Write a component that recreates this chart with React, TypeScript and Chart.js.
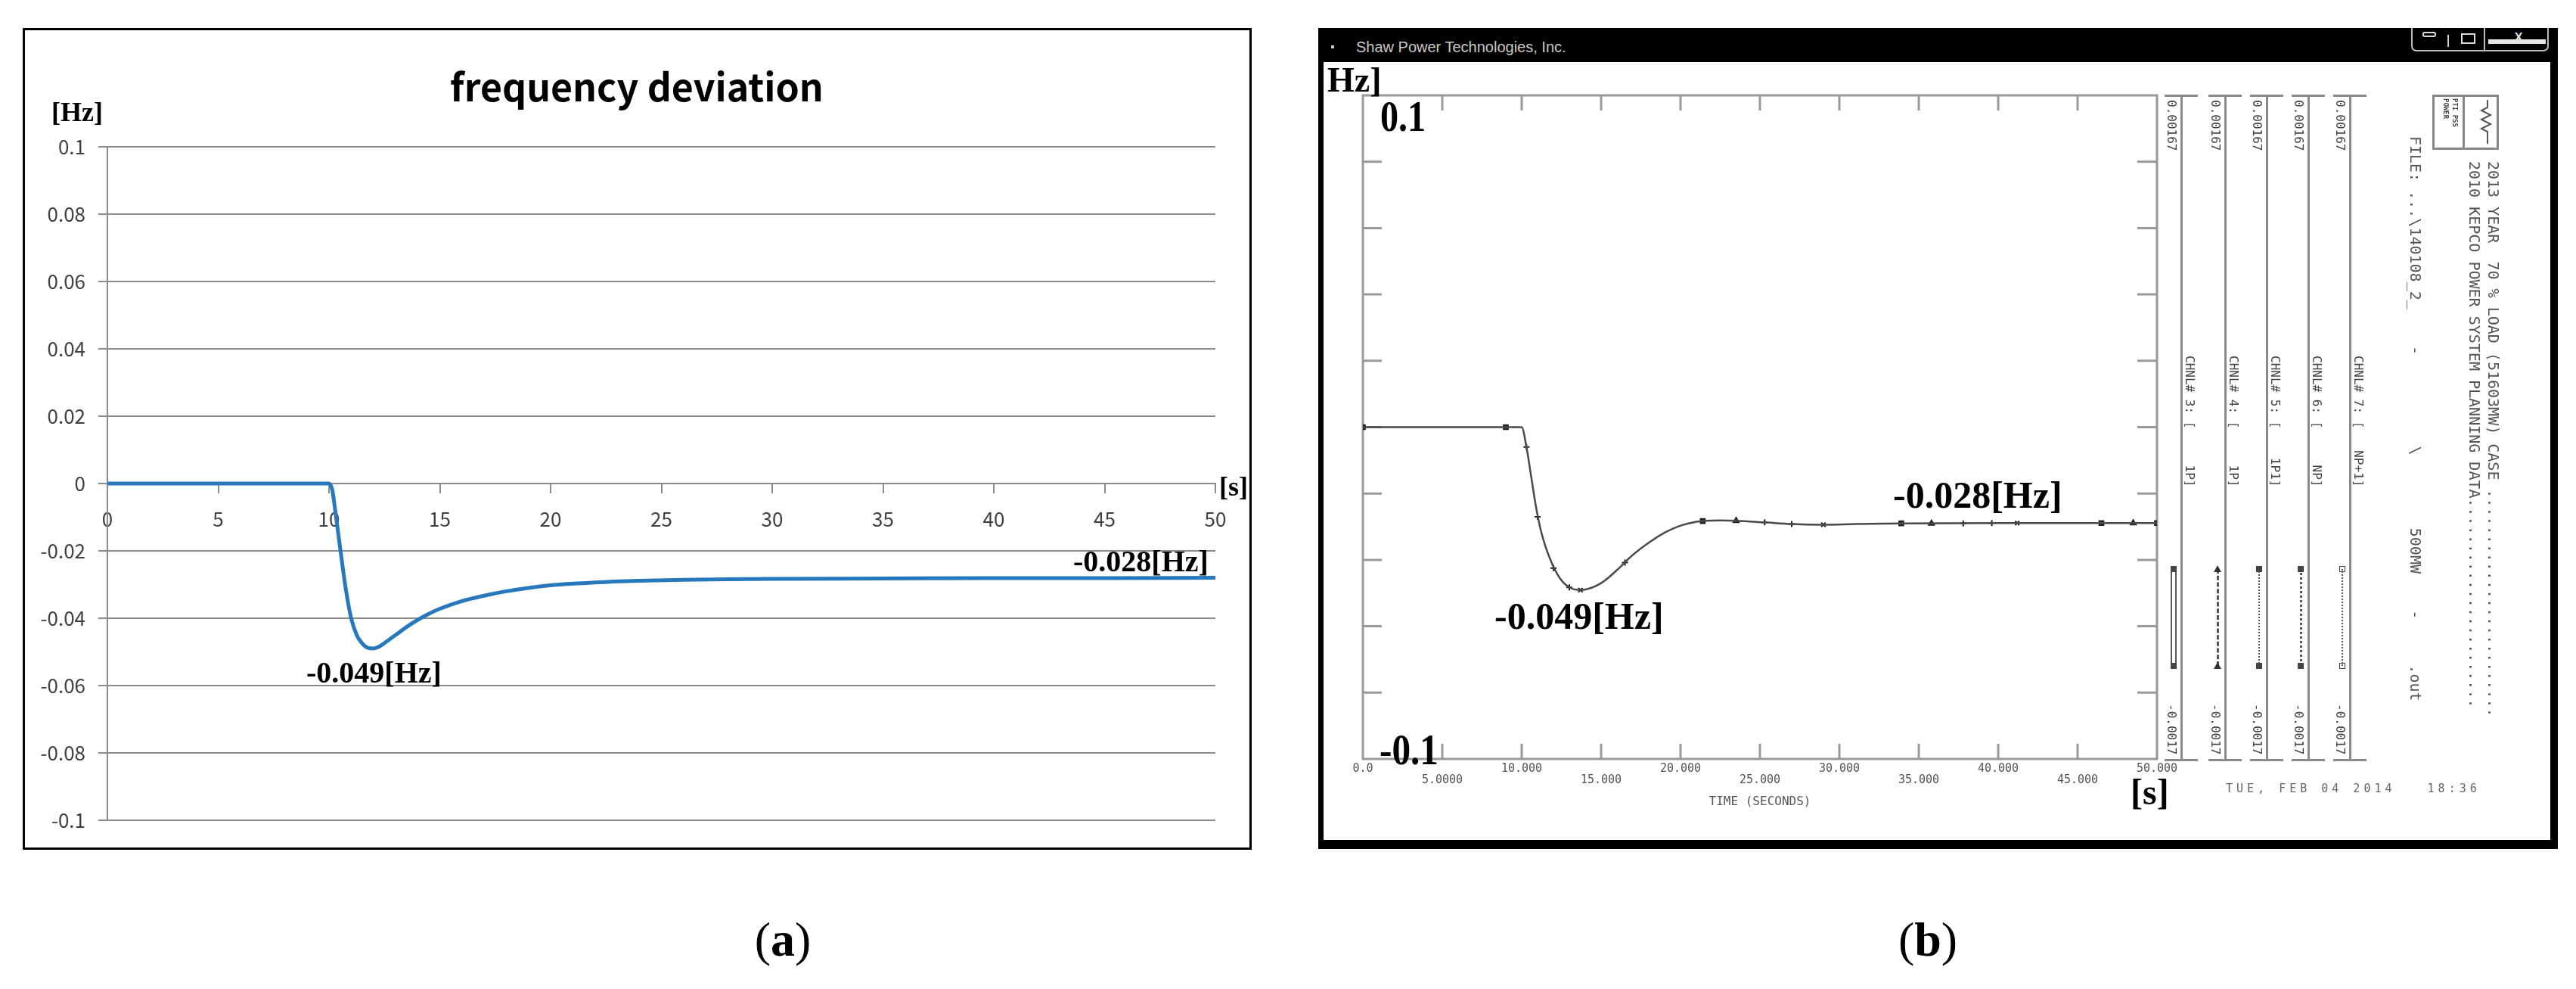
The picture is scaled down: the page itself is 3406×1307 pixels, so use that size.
import React, { useEffect, useRef } from "react";
import { Chart, registerables } from "chart.js";

Chart.register(...registerables);

// ---------------- Panel (a): Excel-style chart ----------------
const timeA = [0, 5, 10, 10.15, 10.3, 10.5, 10.75, 11, 11.25, 11.5, 11.75, 12, 12.25, 12.5, 13, 13.5, 14, 14.5, 15, 16, 17, 18, 19, 20, 22, 24, 26, 28, 30, 35, 40, 45, 50];
const freqA = [0, 0, 0, -0.002, -0.009, -0.019, -0.031, -0.04, -0.045, -0.0475, -0.0488, -0.049, -0.0485, -0.0474, -0.045, -0.0426, -0.0405, -0.0387, -0.0372, -0.0349, -0.0333, -0.032, -0.031, -0.0302, -0.0294, -0.0289, -0.0286, -0.0284, -0.0283, -0.0282, -0.0281, -0.0281, -0.028];
const xTickValsA = [0, 5, 10, 15, 20, 25, 30, 35, 40, 45, 50];
const xTickLabelsA = ["0", "5", "10", "15", "20", "25", "30", "35", "40", "45", "50"];
const yTickValsA = [-0.1, -0.08, -0.06, -0.04, -0.02, 0, 0.02, 0.04, 0.06, 0.08, 0.1];
const yTickLabelsA = ["-0.1", "-0.08", "-0.06", "-0.04", "-0.02", "0", "0.02", "0.04", "0.06", "0.08", "0.1"];

// ---------------- Panel (b): PSS/E plot window ----------------
const timeB = [0, 9, 10, 10.3, 10.6, 10.9, 11.2, 11.5, 11.9, 12.4, 13, 13.7, 14.4, 15, 15.5, 16.1, 17, 18.1, 19, 19.8, 20.6, 21.4, 22.5, 23.5, 25.3, 27, 29, 31, 33.9, 40, 50];
const freqB = [0, 0, 0, -0.006, -0.015, -0.024, -0.031, -0.036, -0.041, -0.0455, -0.0483, -0.0491, -0.0484, -0.047, -0.0452, -0.0426, -0.0385, -0.0345, -0.0318, -0.03, -0.0289, -0.0283, -0.0281, -0.0282, -0.0287, -0.0292, -0.0294, -0.0292, -0.029, -0.0289, -0.0289];
const squareT = [0, 9, 21.4, 33.9, 46.5, 50];
const squareV = [0, 0, -0.0283, -0.029, -0.0289, -0.0289];
const triangleT = [23.5, 35.8, 48.5];
const triangleV = [-0.0282, -0.029, -0.0289];
const plusT = [10.3, 11.0, 12.0, 13.0, 16.5, 25.3, 27.0, 37.8, 39.6];
const plusV = [-0.006, -0.027, -0.0425, -0.0483, -0.0408, -0.0287, -0.0292, -0.029, -0.0289];
const crossT = [13.7, 29.0, 41.2];
const crossV = [-0.0491, -0.0294, -0.0289];
const xTickValsB = [0, 5, 10, 15, 20, 25, 30, 35, 40, 45, 50];
const xTickLabelsB = ["0.0", "5.0000", "10.000", "15.000", "20.000", "25.000", "30.000", "35.000", "40.000", "45.000", "50.000"];
const yTickValsB = [-0.1, -0.08, -0.06, -0.04, -0.02, 0, 0.02, 0.04, 0.06, 0.08, 0.1];
const channelNums = [3, 4, 5, 6, 7];
const channelNames = ["1P", "1P", "1P1", "NP", "NP+1"];
const channelMax = "0.00167";
const channelMin = "-0.0017";

const SERIF = '"Liberation Serif", "Times New Roman", serif';
const MONO = '"DejaVu Sans Mono", "Liberation Mono", monospace';
const KR = '"Noto Sans CJK KR", "Noto Sans", sans-serif';
const GRID = "#8c8c8c";

function pts(t: number[], v: number[]) {
  return t.map((x, i) => ({ x, y: v[i] }));
}

function configA(): any {
  return {
    type: "line",
    data: {
      datasets: [
        {
          data: pts(timeA, freqA),
          borderColor: "#2878bd",
          borderWidth: 5,
          pointRadius: 0,
          cubicInterpolationMode: "monotone",
          fill: false,
        },
      ],
    },
    options: {
      animation: false,
      responsive: false,
      layout: { padding: { left: 0, right: 45, top: 154, bottom: 36 } },
      plugins: { legend: { display: false }, tooltip: { enabled: false }, title: { display: false } },
      scales: {
        x: {
          type: "linear",
          min: 0,
          max: 50,
          position: { y: 0 },
          afterBuildTicks: (s: any) => {
            s.ticks = xTickValsA.map((value) => ({ value }));
          },
          ticks: {
            autoSkip: false,
            maxRotation: 0,
            padding: 20,
            color: "#404040",
            font: { family: KR, size: 26 },
            callback: (_v: any, i: number) => xTickLabelsA[i],
          },
          grid: { drawOnChartArea: false, drawTicks: true, tickLength: 12, color: GRID, lineWidth: 2 },
          border: { display: true, color: GRID, width: 2 },
        },
        y: {
          type: "linear",
          min: -0.1,
          max: 0.1,
          afterFit: (s: any) => {
            s.width = 109;
          },
          afterBuildTicks: (s: any) => {
            s.ticks = yTickValsA.map((value) => ({ value }));
          },
          ticks: {
            autoSkip: false,
            padding: 17,
            color: "#404040",
            font: { family: KR, size: 26 },
            callback: (_v: any, i: number) => yTickLabelsA[i],
          },
          grid: { color: GRID, lineWidth: 2, tickLength: 12 },
          border: { display: true, color: GRID, width: 2 },
        },
      },
    },
  };
}

const frameB = {
  id: "frameB",
  beforeDatasetsDraw(chart: any) {
    const { ctx, chartArea, scales } = chart;
    const { left, right, top, bottom } = chartArea;
    const x = scales.x;
    const y = scales.y;
    ctx.save();
    ctx.strokeStyle = "#9a9a9a";
    ctx.lineWidth = 3;
    ctx.strokeRect(left, top, right - left, bottom - top);
    ctx.beginPath();
    xTickValsB.forEach((t) => {
      if (t <= 0 || t >= 50) return;
      const px = x.getPixelForValue(t);
      ctx.moveTo(px, top);
      ctx.lineTo(px, top + 20);
      ctx.moveTo(px, bottom);
      ctx.lineTo(px, bottom - 20);
    });
    yTickValsB.forEach((v) => {
      if (v <= -0.1 || v >= 0.1) return;
      const py = y.getPixelForValue(v);
      ctx.moveTo(left, py);
      ctx.lineTo(left + 25, py);
      ctx.moveTo(right, py);
      ctx.lineTo(right - 26, py);
    });
    ctx.stroke();
    ctx.restore();
  },
};

function configB(): any {
  const mk = { showLine: false, borderColor: "#222", backgroundColor: "#222", borderWidth: 2 };
  return {
    type: "line",
    data: {
      datasets: [
        {
          data: pts(timeB, freqB),
          borderColor: "#4a4a4a",
          borderWidth: 2.5,
          pointRadius: 0,
          cubicInterpolationMode: "monotone",
          fill: false,
        },
        { ...mk, data: pts(squareT, squareV), pointStyle: "rect", pointRadius: 4 },
        { ...mk, data: pts(triangleT, triangleV), pointStyle: "triangle", pointRadius: 4 },
        { ...mk, data: pts(plusT, plusV), pointStyle: "cross", pointRadius: 4 },
        { ...mk, data: pts(crossT, crossV), pointStyle: "crossRot", pointRadius: 4 },
      ],
    },
    options: {
      animation: false,
      responsive: false,
      layout: { padding: { left: 52, right: 520, top: 44, bottom: 37 } },
      plugins: { legend: { display: false }, tooltip: { enabled: false }, title: { display: false } },
      scales: {
        x: {
          type: "linear",
          min: 0,
          max: 50,
          afterBuildTicks: (s: any) => {
            s.ticks = xTickValsB.map((value) => ({ value }));
          },
          afterFit: (s: any) => {
            s.height = 70;
          },
          ticks: {
            autoSkip: false,
            maxRotation: 0,
            padding: 6,
            color: "#555",
            font: { family: MONO, size: 15, lineHeight: 1.0 },
            callback: (_v: any, i: number) => (i % 2 === 0 ? xTickLabelsB[i] : ["", xTickLabelsB[i]]),
          },
          grid: { display: false, drawTicks: false },
          border: { display: false },
          title: {
            display: true,
            text: "TIME (SECONDS)",
            color: "#555",
            font: { family: MONO, size: 16 },
            padding: { top: 4, bottom: 4 },
          },
        },
        y: { type: "linear", min: -0.1, max: 0.1, display: false },
      },
    },
    plugins: [frameB],
  };
}

function ChartCanvas({ make, left, top, width, height }: any) {
  const ref = useRef<HTMLCanvasElement>(null);
  useEffect(() => {
    const chart = new Chart(ref.current as HTMLCanvasElement, make());
    return () => chart.destroy();
  }, []);
  return (
    <canvas
      ref={ref}
      width={width}
      height={height}
      style={{ position: "absolute", left, top, width, height }}
    />
  );
}

function Txt({ x, y, size, children, family = SERIF, weight = "bold", color = "#000", center = false, sx = 1, style = {} }: any) {
  return (
    <div
      style={{
        position: "absolute",
        left: x,
        top: y - size / 2,
        height: size,
        lineHeight: `${size}px`,
        fontSize: size,
        fontFamily: family,
        fontWeight: weight,
        color,
        whiteSpace: "pre",
        transformOrigin: "0 50%",
        transform: `${center ? "translateX(-50%) " : ""}scaleX(${sx})`,
        ...style,
      }}
    >
      {children}
    </div>
  );
}

function RTxt({ cx, y0, size, children, color = "#444", family = MONO, style = {} }: any) {
  return (
    <div
      style={{
        position: "absolute",
        left: cx + size / 2,
        top: y0,
        height: size,
        lineHeight: `${size}px`,
        fontSize: size,
        fontFamily: family,
        color,
        whiteSpace: "pre",
        transformOrigin: "0 0",
        transform: "rotate(90deg)",
        ...style,
      }}
    >
      {children}
    </div>
  );
}

const stripX = [2884, 2942, 2997, 3052, 3107];
const sampleStyles = [
  { w: 8, style: "double", mark: "sq" },
  { w: 3, style: "dashed", mark: "tri" },
  { w: 2, style: "dotted", mark: "sq" },
  { w: 3, style: "dotted", mark: "sq" },
  { w: 2, style: "dotted", mark: "x" },
];

function Strip({ i }: any) {
  const vx = stripX[i];
  const s = sampleStyles[i];
  const lineC = "#8a8a8a";
  const sx = vx - 10;
  const marker = (y: number) =>
    s.mark === "tri" ? (
      <div style={{ position: "absolute", left: sx - 5, top: y - 5, width: 0, height: 0, borderLeft: "5px solid transparent", borderRight: "5px solid transparent", borderBottom: "9px solid #333" }} />
    ) : (
      <div style={{ position: "absolute", left: sx - 4, top: y - 4, width: 8, height: 8, background: s.mark === "x" ? "transparent" : "#444", border: s.mark === "x" ? "1px solid #444" : "none", boxSizing: "border-box" }} />
    );
  return (
    <>
      <div style={{ position: "absolute", left: vx - 22, top: 125, width: 44, height: 3, background: lineC }} />
      <div style={{ position: "absolute", left: vx - 22, top: 1003, width: 44, height: 3, background: lineC }} />
      <div style={{ position: "absolute", left: vx - 1, top: 125, width: 3, height: 881, background: lineC }} />
      <RTxt cx={vx - 13} y0={132} size={16}>{channelMax}</RTxt>
      <RTxt cx={vx + 11} y0={470} size={16}>{`CHNL# ${channelNums[i]}: [${channelNames[i].padStart(7)}]`}</RTxt>
      <RTxt cx={vx - 13} y0={930} size={16}>{channelMin}</RTxt>
      <div style={{ position: "absolute", left: sx - s.w / 2, top: 752, width: s.w, height: 128, boxSizing: "border-box", borderLeft: s.style === "double" ? "2px solid #555" : `${s.w}px ${s.style} #555`, borderRight: s.style === "double" ? "2px solid #555" : "none" }} />
      {marker(752)}
      {marker(880)}
    </>
  );
}

export default function App() {
  return (
    <div style={{ position: "absolute", left: 0, top: 0, width: 3406, height: 1307, background: "#fff", overflow: "hidden" }}>
      {/* ---------- Panel (a) ---------- */}
      <div style={{ position: "absolute", left: 30, top: 37, width: 1625, height: 1086, border: "3px solid #000", boxSizing: "border-box" }} />
      <ChartCanvas make={configA} left={33} top={40} width={1619} height={1080} />
      <Txt x={842} y={112} size={50} family={KR} center>frequency deviation</Txt>
      <Txt x={68} y={148} size={36}>[Hz]</Txt>
      <Txt x={1612} y={643} size={36}>[s]</Txt>
      <Txt x={405} y={889} size={40}>-0.049[Hz]</Txt>
      <Txt x={1419} y={742} size={40}>-0.028[Hz]</Txt>

      {/* ---------- Panel (b) ---------- */}
      <div style={{ position: "absolute", left: 1743, top: 37, width: 1639, height: 1085, background: "#000" }} />
      <div style={{ position: "absolute", left: 1750, top: 82, width: 1622, height: 1028, background: "#fff" }} />
      <div style={{ position: "absolute", left: 1760, top: 60, width: 4, height: 4, background: "#ccc" }} />
      <Txt x={1793} y={62} size={20} family='"Liberation Sans", sans-serif' weight="normal" color="#c8c8c8">Shaw Power Technologies, Inc.</Txt>
      {/* window buttons */}
      <div style={{ position: "absolute", left: 3188, top: 37, width: 182, height: 31, border: "2px solid #bbb", borderTop: "none", borderRadius: "0 0 7px 7px", boxSizing: "border-box" }} />
      <div style={{ position: "absolute", left: 3203, top: 42, width: 18, height: 7, border: "2px solid #ddd", borderRadius: 3, boxSizing: "border-box" }} />
      <div style={{ position: "absolute", left: 3236, top: 46, width: 2, height: 16, background: "#ccc" }} />
      <div style={{ position: "absolute", left: 3254, top: 44, width: 19, height: 14, border: "2px solid #ddd", boxSizing: "border-box" }} />
      <div style={{ position: "absolute", left: 3284, top: 37, width: 2, height: 30, background: "#bbb" }} />
      <div style={{ position: "absolute", left: 3290, top: 52, width: 76, height: 6, background: "#e6e6e6" }} />
      <Txt x={3330} y={50} size={16} family='"Liberation Sans", sans-serif' weight="bold" color="#e6e6e6" center>X</Txt>

      <ChartCanvas make={configB} left={1750} top={82} width={1622} height={1028} />

      {[0, 1, 2, 3, 4].map((i) => (
        <Strip key={i} i={i} />
      ))}

      {/* logo box */}
      <div style={{ position: "absolute", left: 3216, top: 125, width: 88, height: 73, border: "3px solid #888", boxSizing: "border-box" }} />
      <div style={{ position: "absolute", left: 3256, top: 125, width: 3, height: 73, background: "#888" }} />
      <svg style={{ position: "absolute", left: 3259, top: 128 }} width={42} height={67}>
        <polyline points="30,4 30,14 22,18 34,24 22,30 34,36 22,42 30,46 30,62" fill="none" stroke="#555" strokeWidth={2} />
      </svg>
      <RTxt cx={3245} y0={130} size={9} color="#444" style={{ fontWeight: "bold" }}>{"PTI PSS"}</RTxt>
      <RTxt cx={3233} y0={130} size={9} color="#444" style={{ fontWeight: "bold" }}>{"POWER"}</RTxt>

      <RTxt cx={3297} y0={213} size={20} color="#555">{"2013 YEAR  70 % LOAD (51603MW) CASE ........................."}</RTxt>
      <RTxt cx={3272} y0={213} size={20} color="#555">{"2010 KEPCO POWER SYSTEM PLANNING DATA......................."}</RTxt>
      <RTxt cx={3194} y0={180} size={20} color="#555">{"FILE: ...\\140108_2_    -          \\        500MW    -     .out"}</RTxt>

      <Txt x={2943} y={1042} size={15} family={MONO} weight="normal" color="#666" style={{ letterSpacing: 5 }}>TUE, FEB 04 2014   18:36</Txt>

      <Txt x={1755} y={106} size={46}>Hz]</Txt>
      <Txt x={1825} y={154} size={56} sx={0.86}>0.1</Txt>
      <Txt x={1824} y={991} size={56} sx={0.88}>-0.1</Txt>
      <Txt x={1976} y={814} size={50}>-0.049[Hz]</Txt>
      <Txt x={2503} y={654} size={50}>-0.028[Hz]</Txt>
      <Txt x={2817} y={1047} size={48}>[s]</Txt>

      {/* sub-figure captions */}
      <div style={{ position: "absolute", left: 1035, top: 1242 - 32, lineHeight: "64px", fontSize: 64, fontFamily: SERIF, transform: "translateX(-50%)", whiteSpace: "pre" }}>
        (<b>a</b>)
      </div>
      <div style={{ position: "absolute", left: 2549, top: 1242 - 32, lineHeight: "64px", fontSize: 64, fontFamily: SERIF, transform: "translateX(-50%)", whiteSpace: "pre" }}>
        (<b>b</b>)
      </div>
    </div>
  );
}
